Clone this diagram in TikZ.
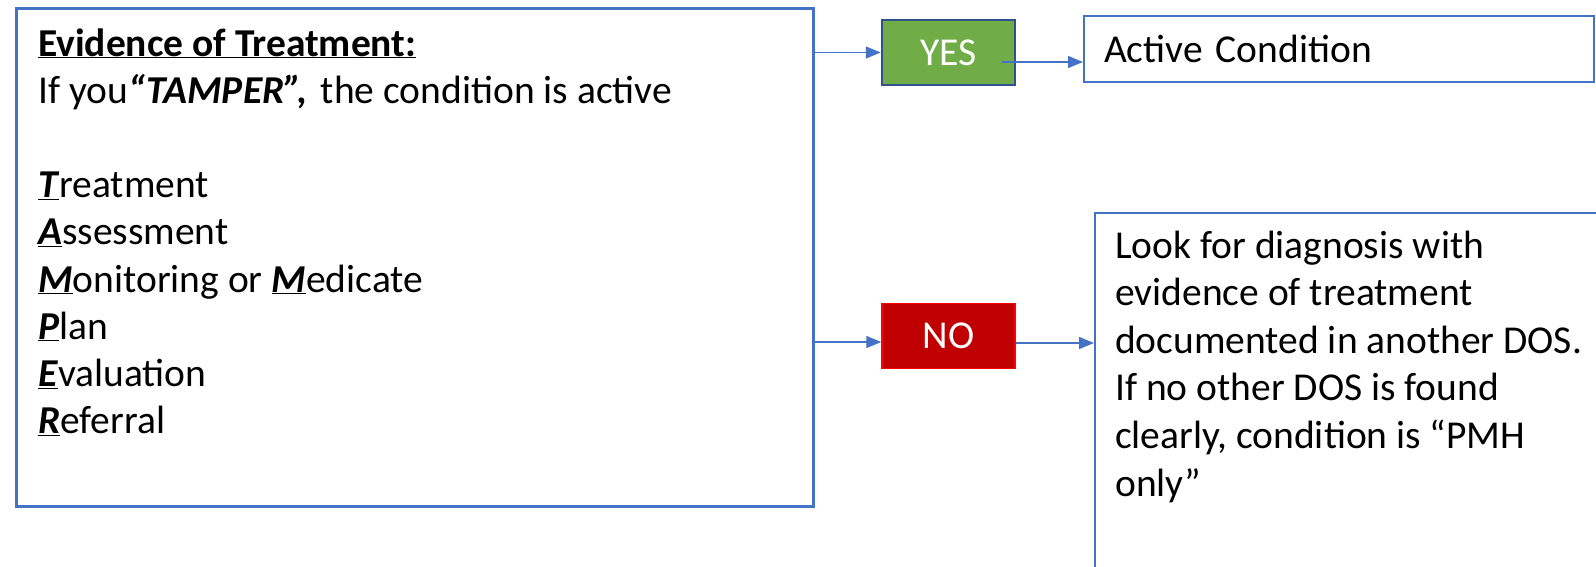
\documentclass[tikz,border=0pt]{standalone}
\usepackage{fontspec}
\setmainfont{Carlito}
\usetikzlibrary{arrows.meta}

\definecolor{officeblue}{HTML}{4472C4}
\definecolor{yesgreen}{HTML}{70AD47}
\definecolor{yesedge}{HTML}{2F528F}
\definecolor{nored}{HTML}{C00000}
\definecolor{noedge}{HTML}{FF0000}

\newcommand{\tampkey}[1]{\underline{\textbf{\textit{#1}}}}

\begin{document}
\begin{tikzpicture}[x=1pt,y=-1pt,
    every node/.style={font=\fontsize{39.5}{47.2}\selectfont},
    box/.style={draw=officeblue, line width=2pt, inner sep=0pt},
    answer/.style={minimum width=133pt, minimum height=65pt, inner sep=0pt, text=white, line width=2.5pt},
    link/.style={draw=officeblue, line width=1.4pt, -{Triangle[length=15pt,width=12pt]}}]
    \useasboundingbox (0,0) rectangle (1596,566);
    \clip (0,0) rectangle (1596,566);
    % left box with the TAMPER list
    \node[box, line width=3pt, minimum width=797pt, minimum height=498pt] (evbox) at (414.5,257) {};
    \node[anchor=base west, inner sep=0pt] (evtext) at (38,56) {\parbox[t]{760pt}{\raggedright
        \underline{\textbf{Evidence of Treatment:}}\\
        If you\textbf{\textit{“TAMPER”,}}\hspace{4pt} the condition is active\\
        \mbox{}\\
        \tampkey{T}reatment\\
        \tampkey{A}ssessment\\
        \tampkey{M}onitoring or \tampkey{M}edicate\\
        \tampkey{P}lan\\
        \tampkey{E}valuation\\
        \tampkey{R}eferral}};
    % answers
    \node[answer, fill=yesgreen, draw=yesedge] (yes) at (948.5,52.5) {YES};
    \node[answer, fill=nored, draw=noedge, line width=1.5pt] (no) at (948.5,336) {NO};
    % outcomes
    \node[box, minimum width=510pt, minimum height=66pt, text width=470pt, inner xsep=20pt, align=left] (active) at (1339,49) {Active Condition};
    \node[box, anchor=north west, minimum width=600pt, minimum height=500pt] (look) at (1094,212) {};
    \node[anchor=base west, inner sep=0pt, font=\fontsize{39.5}{47.6}\selectfont] (looktext) at (1115,258) {\parbox[t]{470pt}{\raggedright
        Look for diagnosis with\\
        evidence of treatment\\
        documented in another DOS.\\
        If no other DOS is found\\
        clearly, condition is “PMH\\
        only”}};
    % connectors
    \coordinate (yesout) at ([xshift=-14pt,yshift=-9.5pt]yes.east);
    \coordinate (noin) at ([yshift=-6pt]no.west);
    \coordinate (noout) at ([yshift=-7pt]no.east);
    \draw[link] (evbox.east |- yes.west) -- (yes.west);
    \draw[link] (yesout) -- (active.west |- yesout);
    \draw[link] (evbox.east |- noin) -- (noin);
    \draw[link] (noout) -- (look.west |- noout);
\end{tikzpicture}
\end{document}
